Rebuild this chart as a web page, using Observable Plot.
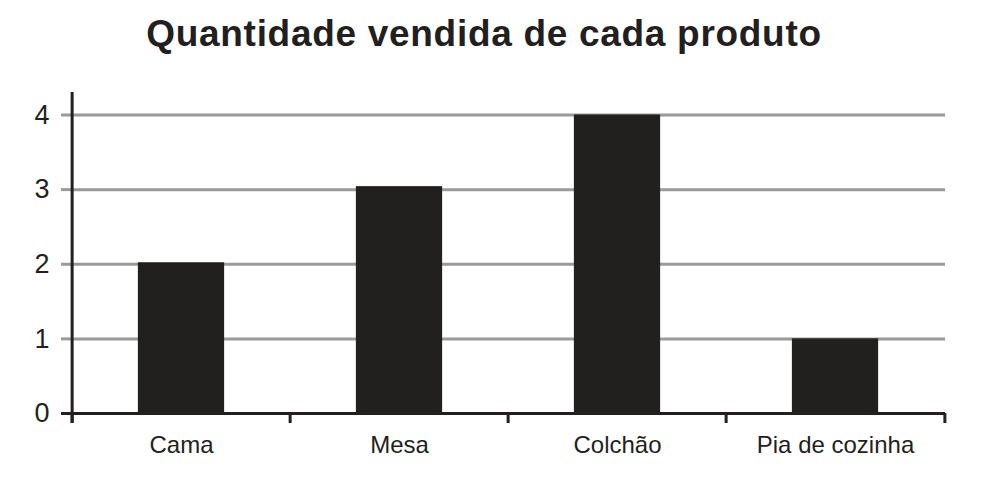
<!DOCTYPE html>
<html>
<head>
<meta charset="utf-8">
<script src="https://cdn.jsdelivr.net/npm/d3@7"></script>
<script src="https://cdn.jsdelivr.net/npm/@observablehq/plot@0.6"></script>
<style>
  html, body { margin: 0; padding: 0; background: #fff; }
  #title {
    width: 1000px; height: 66px; line-height: 64px;
    font-family: "Liberation Sans", Arial, sans-serif;
    font-weight: bold; font-size: 37px; letter-spacing: 0.7px;
    color: #231f20; text-align: center; box-sizing: border-box; padding-right: 32px;
    padding-top: 2px;
  }
  svg { display: block; }
</style>
</head>
<body>
<div id="title">Quantidade vendida de cada produto</div>
<div id="chart"></div>
<script>
const categories = ["Cama", "Mesa", "Colchão", "Pia de cozinha"];
const values = [2.02, 3.04, 4, 1];
const yTicks = [0, 1, 2, 3, 4];

const data = categories.map((c, i) => ({produto: c, quantidade: values[i]}));

const width = 1000, height = 423;
const marginLeft = 70, marginRight = 55, marginTop = 26, marginBottom = 66;
const step = (width - marginLeft - marginRight) / categories.length;
const barW = 87;
const ink = "#231f20";
const grid = "#9a9a9a";
const tickLen = -0.134; // below zero, in data units

const chart = Plot.plot({
  width, height, marginLeft, marginRight, marginTop, marginBottom,
  style: {fontFamily: "'Liberation Sans', Arial, sans-serif", color: ink, background: "white"},
  x: {domain: categories, padding: 0, axis: null},
  y: {domain: [0, 4], range: [347, 48.5], axis: null},
  marks: [
    Plot.ruleY(yTicks.filter(d => d > 0), {stroke: grid, strokeWidth: 3}),
    Plot.axisY(yTicks.filter(d => d > 0), {
      tickSize: 9, tickPadding: 12, stroke: grid, strokeWidth: 3, fill: ink,
      fontSize: 27, tickFormat: d => String(d), label: null
    }),
    Plot.axisY([0], {
      tickSize: 9, tickPadding: 12, stroke: ink, strokeWidth: 3, fill: ink,
      fontSize: 27, tickFormat: d => String(d), label: null
    }),
    Plot.barY(data, {
      x: "produto", y: "quantidade", fill: "#22201e",
      insetLeft: (step - barW) / 2, insetRight: (step - barW) / 2
    }),
    Plot.ruleY([0], {stroke: ink, strokeWidth: 3}),
    Plot.ruleX([categories[0]], {stroke: ink, strokeWidth: 3, dx: -step / 2}),
    Plot.ruleX(categories, {x: d => d, y1: 0, y2: tickLen, stroke: ink, strokeWidth: 3, dx: -step / 2}),
    Plot.ruleX([categories[categories.length - 1]], {y1: 0, y2: tickLen, stroke: ink, strokeWidth: 3, dx: step / 2}),
    Plot.axisX({
      tickSize: 0, tickPadding: 12, fill: ink, fontSize: 24, label: null
    })
  ]
});
document.getElementById("chart").appendChild(chart);
</script>
</body>
</html>
